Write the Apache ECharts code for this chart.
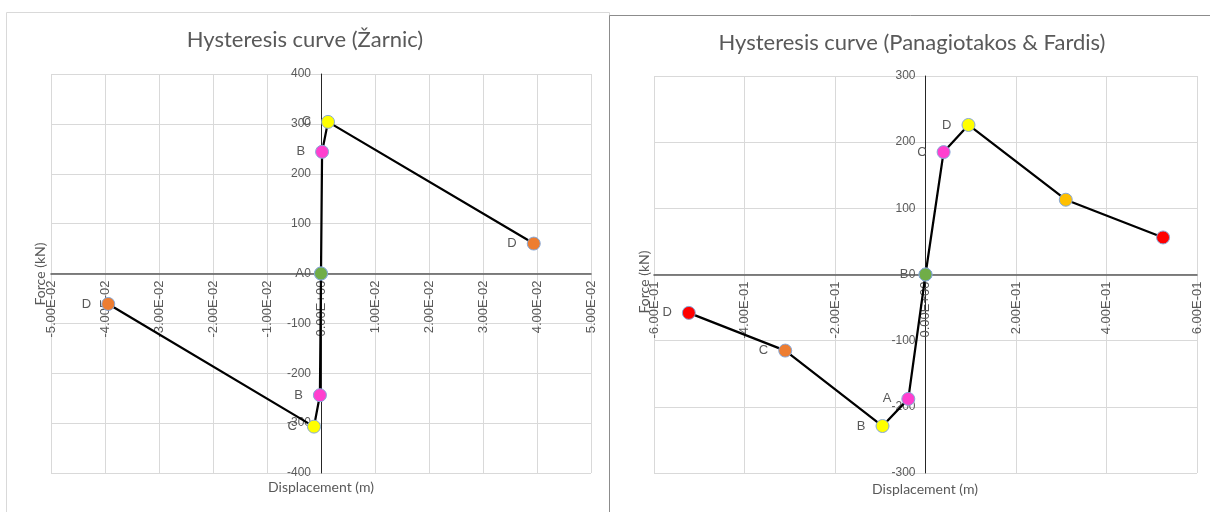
<!DOCTYPE html>
<html>
<head>
<meta charset="utf-8">
<script src="https://cdn.jsdelivr.net/npm/echarts@6/dist/echarts.min.js"></script>
<style>
    html, body { margin: 0; padding: 0; background: #fff; }
    #chart { width: 1210px; height: 512px; }
</style>
</head>
<body>
<div id="chart"></div>
<script>
// Žarnic model (left chart)
const zarnicPosX = [0, 0.0002, 0.0013, 0.0394];
const zarnicPosY = [0, 244, 304, 60];
const zarnicNegX = [0, -0.0002, -0.0013, -0.0394];
const zarnicNegY = [0, -244, -307, -61];
const zarnicPosLabels = ['A', 'B', 'C', 'D'];
const zarnicNegLabels = ['', 'B', 'C', 'D'];
const zarnicColors = ['#70ad47', '#ff3fcf', '#ffff00', '#ed7d31'];

// Panagiotakos & Fardis model (right chart)
const pfPosX = [0, 0.04, 0.095, 0.31, 0.525];
const pfPosY = [0, 185, 226, 113, 56];
const pfNegX = [0, -0.038, -0.095, -0.31, -0.523];
const pfNegY = [0, -188, -229, -115, -58];
const pfPosLabels = ['B', 'C', 'D', '', ''];
const pfNegLabels = ['', 'A', 'B', 'C', 'D'];
const pfPosColors = ['#70ad47', '#ff3fcf', '#ffff00', '#ffc000', '#ff0000'];
const pfNegColors = ['#70ad47', '#ff3fcf', '#ffff00', '#ed7d31', '#ff0000'];

// axis ranges
const zarnicX = { min: -0.05, max: 0.05, step: 0.01 };
const zarnicY = { min: -400, max: 400, step: 100 };
const pfX = { min: -0.6, max: 0.6, step: 0.2 };
const pfY = { min: -300, max: 300, step: 100 };

const gray = '#595959';

// plot boxes, axes cross in the middle (ranges are symmetric)
const boxes = [
    { left: 51, top: 74, width: 540, height: 399 },
    { left: 654, top: 76, width: 543, height: 397 }
];

// Excel style scientific labels: 4.00E-02
function sci(v) {
    if (Math.abs(v) < 1e-12) return '0.00E+00';
    let parts = v.toExponential(2).split('e');
    let n = parseInt(parts[1], 10);
    return parts[0] + 'E' + (n < 0 ? '-' : '+') + String(Math.abs(n)).padStart(2, '0');
}

function xAxisOf(r, idx) {
    return {
        type: 'value', gridIndex: idx,
        min: r.min, max: r.max, interval: r.step,
        offset: -boxes[idx].height / 2,
        axisLine: { onZero: false, lineStyle: { color: '#595959', width: 1.5 } },
        axisTick: { show: false },
        axisLabel: {
            rotate: 90, margin: 7, color: gray, fontSize: 13,
            fontFamily: 'Liberation Sans', formatter: sci
        },
        splitLine: { show: true, lineStyle: { color: '#d9d9d9', width: 1 } }
    };
}

function yAxisOf(r, idx) {
    return {
        type: 'value', gridIndex: idx,
        min: r.min, max: r.max, interval: r.step,
        offset: -boxes[idx].width / 2,
        axisLine: { onZero: false, lineStyle: { color: '#262626', width: 1 } },
        axisTick: { show: false },
        axisLabel: { margin: 10, color: gray, fontSize: 12, fontFamily: 'Liberation Sans' },
        splitLine: { show: true, lineStyle: { color: '#d9d9d9', width: 1 } }
    };
}

function branch(xs, ys, labels, colors, idx) {
    return {
        type: 'line',
        xAxisIndex: idx, yAxisIndex: idx,
        symbol: 'circle', symbolSize: 13,
        showAllSymbol: true,
        lineStyle: { color: '#000', width: 2.25 },
        itemStyle: { borderColor: '#86a8d8', borderWidth: 1 },
        label: {
            position: 'left', distance: 10,
            color: gray, fontSize: 13, fontFamily: 'Liberation Sans'
        },
        emphasis: { disabled: true },
        data: xs.map((x, i) => ({
            value: [x, ys[i]],
            itemStyle: { color: colors[i] },
            label: { show: labels[i] !== '', formatter: labels[i] }
        }))
    };
}

function txt(text, x, y, size, rot) {
    return {
        type: 'text', x: x, y: y, rotation: rot || 0,
        style: {
            text: text, fill: gray, align: 'center', verticalAlign: 'middle',
            font: size + 'px Lato'
        }
    };
}

let chart = echarts.init(document.querySelector('#chart'));

let option = {
    animation: false,
    grid: boxes,
    xAxis: [xAxisOf(zarnicX, 0), xAxisOf(pfX, 1)],
    yAxis: [yAxisOf(zarnicY, 0), yAxisOf(pfY, 1)],
    graphic: [
        { type: 'rect', shape: { x: 6.5, y: 12.5, width: 603, height: 520 },
          style: { fill: 'none', stroke: '#d9d9d9', lineWidth: 1 }, z: -10 },
        { type: 'rect', shape: { x: 609.5, y: 15.5, width: 620, height: 520 },
          style: { fill: 'none', stroke: '#8c8c8c', lineWidth: 1 }, z: -10 },
        txt('Hysteresis curve (Žarnic)', 305, 40, 22),
        txt('Hysteresis curve (Panagiotakos & Fardis)', 912, 43, 22),
        txt('Force (kN)', 40, 274, 14, Math.PI / 2),
        txt('Force (kN)', 644, 282, 14, Math.PI / 2),
        txt('Displacement (m)', 321, 487, 14),
        txt('Displacement (m)', 925, 489, 14)
    ],
    series: [
        branch(zarnicPosX, zarnicPosY, zarnicPosLabels, zarnicColors, 0),
        branch(zarnicNegX, zarnicNegY, zarnicNegLabels, zarnicColors, 0),
        branch(pfPosX, pfPosY, pfPosLabels, pfPosColors, 1),
        branch(pfNegX, pfNegY, pfNegLabels, pfNegColors, 1)
    ]
};

chart.setOption(option);
</script>
</body>
</html>
